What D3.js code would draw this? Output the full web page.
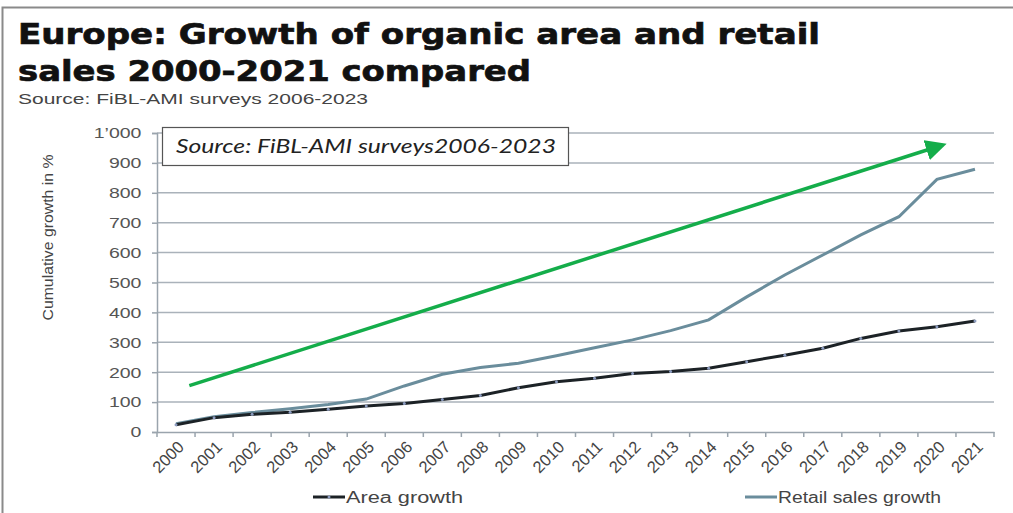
<!DOCTYPE html>
<html>
<head>
<meta charset="utf-8">
<script src="https://d3js.org/d3.v7.min.js"></script>
<style>
  body { margin: 0; background: #fff; }
  svg { display: block; }
</style>
</head>
<body>
<script>
var years = ['2000', '2001', '2002', '2003', '2004', '2005', '2006', '2007', '2008', '2009', '2010',
             '2011', '2012', '2013', '2014', '2015', '2016', '2017', '2018', '2019', '2020', '2021'];
var areaGrowth = [24, 48, 59, 66, 76, 87, 95, 109, 122, 148, 168,
                  180, 196, 202, 213, 235, 257, 280, 313, 338, 352, 371];
var retailGrowth = [28, 51, 65, 78, 92, 110, 154, 193, 216, 230, 255,
                    282, 308, 339, 375, 452, 525, 592, 659, 720, 845, 879];
var yTicks = [0, 100, 200, 300, 400, 500, 600, 700, 800, 900, 1000];
var seriesNames = ['Area growth', 'Retail sales growth'];
// trend arrow, in (category index, value) units
var arrowFrom = [0.35, 155];
var arrowTo = [20.15, 960];

var W = 1013, H = 513;
var plotL = 157, plotR = 994, plotT = 133, plotB = 432;
var FONT = 'Liberation Sans, Arial, sans-serif';

var svg = d3.select('body').append('svg')
  .attr('width', W)
  .attr('height', H);

// frame
svg.append('path')
  .attr('d', 'M2.5,' + H + 'V7.5H' + W)
  .attr('fill', 'none')
  .attr('stroke', '#8a8a8a')
  .attr('stroke-width', 2);

// title
var title = svg.append('g').style('font-family', 'DejaVu Sans, sans-serif')
  .style('font-weight', 'bold').style('font-size', '29px')
  .attr('fill', '#111').attr('stroke', '#111').attr('stroke-width', 0.7);
title.append('text').attr('x', 18).attr('y', 44)
  .attr('textLength', 802).attr('lengthAdjust', 'spacingAndGlyphs')
  .text('Europe: Growth of organic area and retail');
title.append('text').attr('x', 18).attr('y', 81)
  .attr('textLength', 513).attr('lengthAdjust', 'spacingAndGlyphs')
  .text('sales 2000-2021 compared');

svg.append('text')
  .attr('x', 18).attr('y', 104)
  .attr('textLength', 350).attr('lengthAdjust', 'spacingAndGlyphs')
  .style('font-family', FONT)
  .style('font-size', '15px')
  .attr('fill', '#444')
  .text('Source: FiBL-AMI surveys 2006-2023');

var x = d3.scaleBand().domain(years).range([plotL, plotR]);
var xi = d3.scaleLinear().domain([0, years.length - 1])
  .range([x(years[0]) + x.bandwidth() / 2, x(years[years.length - 1]) + x.bandwidth() / 2]);
var y = d3.scaleLinear().domain([0, 1000]).range([plotB, plotT]);

// gridlines
svg.append('g')
  .selectAll('line')
  .data(yTicks.filter(function(d) { return d > 0; }))
  .enter()
  .append('line')
    .attr('x1', plotL).attr('x2', plotR)
    .attr('y1', function(d) { return y(d); })
    .attr('y2', function(d) { return y(d); })
    .attr('stroke', '#aab2ba')
    .attr('stroke-width', 1.5);

// y axis
var yAxis = svg.append('g')
  .attr('transform', 'translate(' + plotL + ',0)')
  .call(d3.axisLeft(y).tickValues(yTicks).tickSize(5).tickPadding(7)
    .tickFormat(function(d) { return d === 1000 ? '1\u2019000' : d; }));
yAxis.select('.domain').attr('stroke', '#9aa4ad').attr('stroke-width', 1.5);
yAxis.selectAll('.tick line').attr('stroke', '#9aa4ad').attr('stroke-width', 1.5);
yAxis.selectAll('text')
  .attr('transform', 'scale(1.3,1)')
  .style('font-family', FONT)
  .style('font-size', '15px')
  .attr('fill', '#555');

// x axis
var xAxis = svg.append('g')
  .attr('transform', 'translate(0,' + plotB + ')')
  .call(d3.axisBottom(x).tickSize(0).tickPadding(0));
xAxis.select('.domain').attr('stroke', '#9aa4ad').attr('stroke-width', 1.5);
xAxis.selectAll('.tick text')
  .attr('transform', 'translate(5,12) rotate(-45)')
  .attr('text-anchor', 'end')
  .attr('dy', '0.35em')
  .attr('y', 0)
  .style('font-family', FONT)
  .style('font-size', '16.5px')
  .attr('fill', '#444');
svg.append('g')
  .selectAll('line')
  .data(d3.range(years.length + 1))
  .enter()
  .append('line')
    .attr('x1', function(d) { return plotL + d * x.step(); })
    .attr('x2', function(d) { return plotL + d * x.step(); })
    .attr('y1', plotB).attr('y2', plotB + 5)
    .attr('stroke', '#9aa4ad')
    .attr('stroke-width', 1.5);

svg.append('text')
  .attr('transform', 'translate(53,' + ((plotT + plotB) / 2 - 45) + ') rotate(-90)')
  .attr('text-anchor', 'middle')
  .attr('textLength', 166).attr('lengthAdjust', 'spacingAndGlyphs')
  .style('font-family', FONT)
  .style('font-size', '15px')
  .attr('fill', '#444')
  .text('Cumulative growth in %');

var line = d3.line()
  .x(function(d, i) { return xi(i); })
  .y(function(d) { return y(d); });

svg.append('path')
  .datum(retailGrowth)
  .attr('d', line)
  .attr('fill', 'none')
  .attr('stroke', '#6a8d9c')
  .attr('stroke-width', 3);

svg.append('path')
  .datum(areaGrowth)
  .attr('d', line)
  .attr('fill', 'none')
  .attr('stroke', '#1c2226')
  .attr('stroke-width', 3);

svg.append('g')
  .selectAll('circle')
  .data(areaGrowth)
  .enter()
  .append('circle')
    .attr('cx', function(d, i) { return xi(i); })
    .attr('cy', function(d) { return y(d); })
    .attr('r', 1.5)
    .attr('fill', '#8c9cc0');

// source box
svg.append('rect')
  .attr('x', 162.5).attr('y', 127.5)
  .attr('width', 406).attr('height', 38)
  .attr('fill', '#fff')
  .attr('stroke', '#555')
  .attr('stroke-width', 1.2);
svg.append('text')
  .attr('x', 176).attr('y', 153)
  .attr('textLength', 380).attr('lengthAdjust', 'spacingAndGlyphs')
  .style('font-family', 'Lato, sans-serif')
  .style('font-style', 'italic')
  .style('font-size', '19px')
  .attr('fill', '#222')
  .text('Source: FiBL-AMI surveys2006-2023');

// trend arrow
svg.append('defs').append('marker')
  .attr('id', 'head')
  .attr('viewBox', '0 0 10 10')
  .attr('refX', 8).attr('refY', 5)
  .attr('markerWidth', 6).attr('markerHeight', 6)
  .attr('markerUnits', 'strokeWidth')
  .attr('orient', 'auto')
  .append('path')
    .attr('d', 'M0,0L10,5L0,10z')
    .attr('fill', '#14ad4a');
svg.append('line')
  .attr('x1', xi(arrowFrom[0])).attr('y1', y(arrowFrom[1]))
  .attr('x2', xi(arrowTo[0])).attr('y2', y(arrowTo[1]))
  .attr('stroke', '#14ad4a')
  .attr('stroke-width', 3.5)
  .attr('marker-end', 'url(#head)');

// legend
var legendLen = [117, 163];
var legend = svg.append('g')
  .selectAll('g')
  .data(seriesNames)
  .enter()
  .append('g')
    .attr('transform', function(d, i) { return 'translate(' + (313 + i * 432) + ',497)'; });
legend.append('line')
  .attr('x1', 0).attr('x2', 32)
  .attr('stroke', function(d, i) { return i ? '#6a8d9c' : '#1c2226'; })
  .attr('stroke-width', 3);
legend.filter(function(d, i) { return i === 0; })
  .append('circle').attr('cx', 16).attr('r', 1.5).attr('fill', '#8c9cc0');
legend.append('text')
  .attr('x', 33).attr('dy', '0.35em')
  .attr('textLength', function(d, i) { return legendLen[i]; })
  .attr('lengthAdjust', 'spacingAndGlyphs')
  .style('font-family', FONT)
  .style('font-size', '16px')
  .attr('fill', '#444')
  .text(function(d) { return d; });
</script>
</body>
</html>
